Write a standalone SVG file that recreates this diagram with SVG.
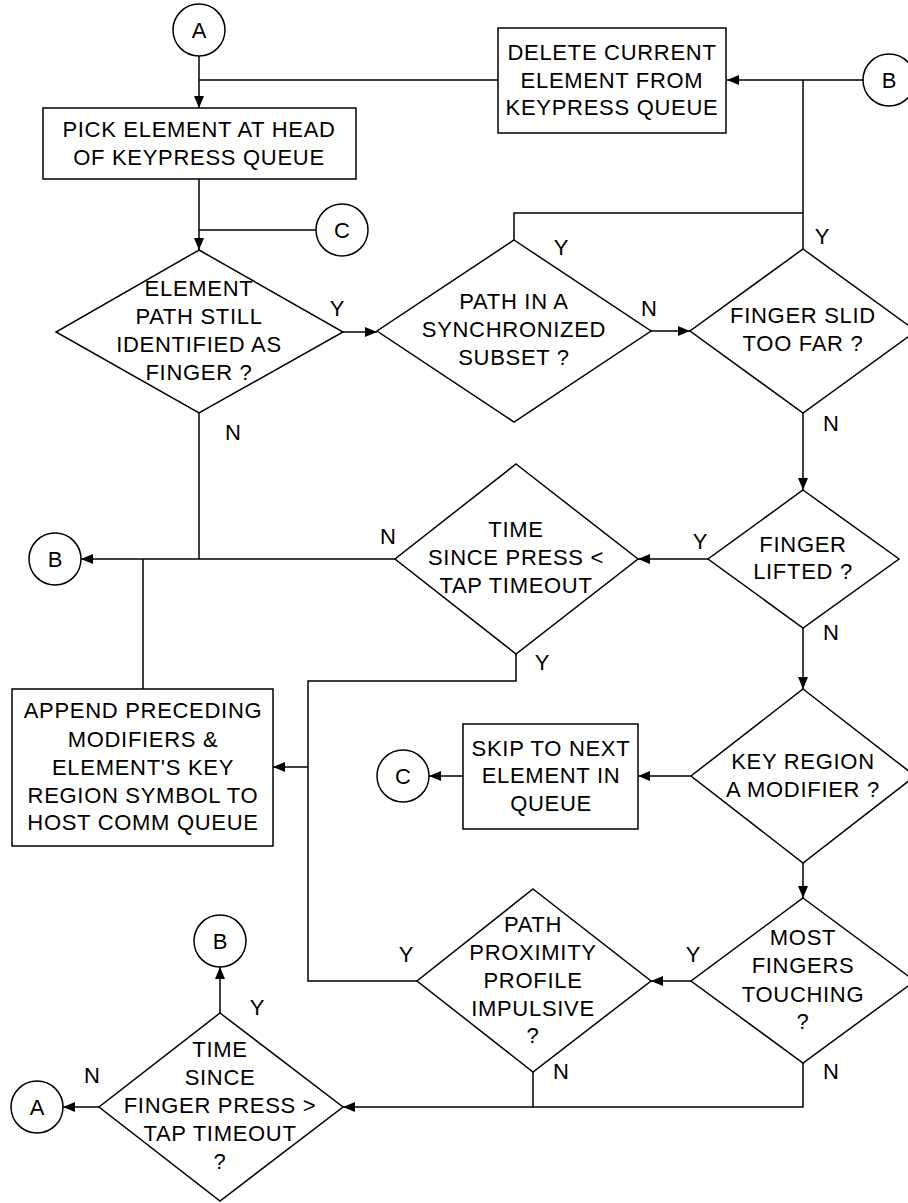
<svg xmlns="http://www.w3.org/2000/svg" width="908" height="1203" viewBox="0 0 908 1203">
<style>
.s{fill:#fff;stroke:#000;stroke-width:1.5}
.c{fill:none;stroke:#000;stroke-width:1.5}
.t{font-family:"Liberation Sans",Arial,sans-serif;font-size:22px;letter-spacing:0.7px;text-anchor:middle;fill:#000}
.l{font-family:"Liberation Sans",Arial,sans-serif;font-size:22px;text-anchor:middle;fill:#000}
</style>
<defs>
<marker id="ar" markerUnits="userSpaceOnUse" markerWidth="13" markerHeight="11" refX="12" refY="5" orient="auto">
<path d="M0,0 L12,5 L0,10 Z" fill="#000"/>
</marker>
</defs>
<rect width="908" height="1203" fill="#fff"/>
<g id="connectors">
<line class="c" x1="199" y1="56" x2="199" y2="108" marker-end="url(#ar)"/>
<line class="c" x1="498" y1="80" x2="199" y2="80"/>
<line class="c" x1="863" y1="80" x2="727" y2="80" marker-end="url(#ar)"/>
<line class="c" x1="199" y1="179" x2="199" y2="250" marker-end="url(#ar)"/>
<line class="c" x1="316" y1="230" x2="199" y2="230"/>
<line class="c" x1="343" y1="332" x2="377" y2="332" marker-end="url(#ar)"/>
<line class="c" x1="651" y1="331" x2="690" y2="331" marker-end="url(#ar)"/>
<polyline class="c" points="514,240 514,213 803,213"/>
<line class="c" x1="803" y1="249" x2="803" y2="80"/>
<line class="c" x1="803" y1="413" x2="803" y2="490" marker-end="url(#ar)"/>
<line class="c" x1="708" y1="559" x2="638" y2="559" marker-end="url(#ar)"/>
<line class="c" x1="803" y1="628" x2="803" y2="689" marker-end="url(#ar)"/>
<line class="c" x1="395" y1="559" x2="81" y2="559" marker-end="url(#ar)"/>
<line class="c" x1="199" y1="413" x2="199" y2="559"/>
<line class="c" x1="143" y1="689" x2="143" y2="559"/>
<polyline class="c" points="516,654 516,681 308,681 308,981 417,981"/>
<line class="c" x1="308" y1="767" x2="273" y2="767" marker-end="url(#ar)"/>
<line class="c" x1="691" y1="776" x2="638" y2="776" marker-end="url(#ar)"/>
<line class="c" x1="463" y1="776" x2="429" y2="776" marker-end="url(#ar)"/>
<line class="c" x1="803" y1="863" x2="803" y2="898" marker-end="url(#ar)"/>
<line class="c" x1="691" y1="981" x2="651" y2="981" marker-end="url(#ar)"/>
<polyline class="c" points="803,1063 803,1107 343,1107" marker-end="url(#ar)"/>
<line class="c" x1="533" y1="1072" x2="533" y2="1107"/>
<line class="c" x1="220" y1="1013" x2="220" y2="967" marker-end="url(#ar)"/>
<line class="c" x1="99" y1="1107" x2="63" y2="1107" marker-end="url(#ar)"/>
</g>
<g id="labels">
<text class="l" x="337" y="316">Y</text>
<text class="l" x="233" y="440">N</text>
<text class="l" x="561" y="255">Y</text>
<text class="l" x="649" y="316">N</text>
<text class="l" x="822" y="244">Y</text>
<text class="l" x="831" y="431">N</text>
<text class="l" x="700" y="549">Y</text>
<text class="l" x="831" y="640">N</text>
<text class="l" x="388" y="544">N</text>
<text class="l" x="542" y="670">Y</text>
<text class="l" x="693" y="962">Y</text>
<text class="l" x="406" y="962">Y</text>
<text class="l" x="561" y="1079">N</text>
<text class="l" x="831" y="1079">N</text>
<text class="l" x="257" y="1015">Y</text>
<text class="l" x="92" y="1083">N</text>
</g>
<g id="circleA1"><circle class="s" cx="199" cy="30" r="26"/><text class="l" x="199" y="38">A</text></g>
<g id="circleB1"><circle class="s" cx="889" cy="80" r="26"/><text class="l" x="889" y="88">B</text></g>
<g id="circleC1"><circle class="s" cx="342" cy="230" r="26"/><text class="l" x="342" y="238">C</text></g>
<g id="circleB2"><circle class="s" cx="55" cy="559" r="26"/><text class="l" x="55" y="567">B</text></g>
<g id="circleC2"><circle class="s" cx="403" cy="776" r="26"/><text class="l" x="403" y="784">C</text></g>
<g id="circleB3"><circle class="s" cx="220" cy="941" r="26"/><text class="l" x="220" y="949">B</text></g>
<g id="circleA2"><circle class="s" cx="37" cy="1107" r="26"/><text class="l" x="37" y="1115">A</text></g>
<g id="pick">
<rect class="s" x="43" y="108" width="313" height="71"/>
<text class="t"><tspan x="199" y="137">PICK ELEMENT AT HEAD</tspan><tspan x="199" y="165">OF KEYPRESS QUEUE</tspan></text>
</g>
<g id="delete">
<rect class="s" x="498" y="28" width="228" height="105"/>
<text class="t"><tspan x="612" y="60">DELETE CURRENT</tspan><tspan x="612" y="88">ELEMENT FROM</tspan><tspan x="612" y="115">KEYPRESS QUEUE</tspan></text>
</g>
<g id="d1">
<polygon class="s" points="199,250 343,332 199,413 56,332"/>
<text class="t"><tspan x="199" y="296">ELEMENT</tspan><tspan x="199" y="324">PATH STILL</tspan><tspan x="199" y="352">IDENTIFIED AS</tspan><tspan x="199" y="380">FINGER ?</tspan></text>
</g>
<g id="d2">
<polygon class="s" points="514,240 651,331 514,422 377,331"/>
<text class="t"><tspan x="514" y="309">PATH IN A</tspan><tspan x="514" y="337">SYNCHRONIZED</tspan><tspan x="514" y="365">SUBSET ?</tspan></text>
</g>
<g id="d3">
<polygon class="s" points="803,249 916,331 803,413 690,331"/>
<text class="t"><tspan x="803" y="323">FINGER SLID</tspan><tspan x="803" y="351">TOO FAR ?</tspan></text>
</g>
<g id="d4">
<polygon class="s" points="803,490 899,559 803,628 708,559"/>
<text class="t"><tspan x="803" y="552">FINGER</tspan><tspan x="803" y="579">LIFTED ?</tspan></text>
</g>
<g id="d5">
<polygon class="s" points="516,464 638,559 516,654 395,559"/>
<text class="t"><tspan x="516" y="537">TIME</tspan><tspan x="516" y="565">SINCE PRESS &lt;</tspan><tspan x="516" y="593">TAP TIMEOUT</tspan></text>
</g>
<g id="append">
<rect class="s" x="12" y="689" width="261" height="157"/>
<text class="t"><tspan x="143" y="718">APPEND PRECEDING</tspan><tspan x="143" y="747">MODIFIERS &amp;</tspan><tspan x="143" y="775">ELEMENT'S KEY</tspan><tspan x="143" y="803">REGION SYMBOL TO</tspan><tspan x="143" y="830">HOST COMM QUEUE</tspan></text>
</g>
<g id="skip">
<rect class="s" x="463" y="724" width="175" height="105"/>
<text class="t"><tspan x="551" y="756">SKIP TO NEXT</tspan><tspan x="551" y="783">ELEMENT IN</tspan><tspan x="551" y="811">QUEUE</tspan></text>
</g>
<g id="d6">
<polygon class="s" points="803,689 915,776 803,863 691,776"/>
<text class="t"><tspan x="803" y="769">KEY REGION</tspan><tspan x="803" y="797">A MODIFIER ?</tspan></text>
</g>
<g id="d7">
<polygon class="s" points="803,898 915,981 803,1063 691,981"/>
<text class="t"><tspan x="803" y="945">MOST</tspan><tspan x="803" y="973">FINGERS</tspan><tspan x="803" y="1002">TOUCHING</tspan><tspan x="803" y="1029">?</tspan></text>
</g>
<g id="d8">
<polygon class="s" points="533,889 651,981 533,1072 417,981"/>
<text class="t"><tspan x="533" y="932">PATH</tspan><tspan x="533" y="960">PROXIMITY</tspan><tspan x="533" y="988">PROFILE</tspan><tspan x="533" y="1016">IMPULSIVE</tspan><tspan x="533" y="1043">?</tspan></text>
</g>
<g id="d9">
<polygon class="s" points="220,1013 343,1107 220,1201 99,1107"/>
<text class="t"><tspan x="220" y="1057">TIME</tspan><tspan x="220" y="1085">SINCE</tspan><tspan x="220" y="1113">FINGER PRESS &gt;</tspan><tspan x="220" y="1141">TAP TIMEOUT</tspan><tspan x="220" y="1169">?</tspan></text>
</g>
</svg>
